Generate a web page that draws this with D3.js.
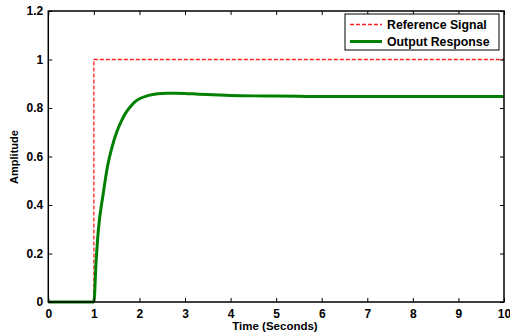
<!DOCTYPE html>
<html><head><meta charset="utf-8">
<script src="https://cdn.jsdelivr.net/npm/d3@7"></script>
<style>body{margin:0;background:#fff}text{font-family:"Liberation Sans",Arial,sans-serif;font-weight:bold}</style>
</head><body><svg id="c" width="510" height="335"></svg>
<script>
const xTicks = [0,1,2,3,4,5,6,7,8,9,10];
const yTicks = [0,0.2,0.4,0.6,0.8,1,1.2];
const refTime = [0, 1, 1, 10];
const refValue = [0, 0, 1, 1];
const outTime = [0, 1, 1.05, 1.1, 1.2, 1.3, 1.4, 1.5, 1.6, 1.7, 1.8, 1.9, 2.0, 2.2, 2.4, 2.6, 2.8, 3.0, 3.3, 3.6, 4.0, 4.5, 5.0, 5.5, 6, 7, 8, 9, 10];
const outValue = [0, 0, 0.17, 0.30, 0.44, 0.56, 0.64, 0.70, 0.745, 0.78, 0.805, 0.825, 0.838, 0.852, 0.859, 0.861, 0.861, 0.860, 0.857, 0.855, 0.852, 0.850, 0.849, 0.848, 0.847, 0.847, 0.847, 0.847, 0.847];
const legendLabels = ["Reference Signal", "Output Response"];

const svg = d3.select("#c");
const L = 48.3, R = 504, T = 11, B = 302;
const x = d3.scaleLinear().domain([0,10]).range([L,R]);
const y = d3.scaleLinear().domain([0,1.2]).range([B,T]);

const line = d3.line().x(d=>x(d[0])).y(d=>y(d[1]));
const ref = refTime.map((t,i)=>[t,refValue[i]]);
const out = outTime.map((t,i)=>[t,outValue[i]]);

svg.append("path").attr("d", line(ref)).attr("fill","none").attr("stroke","#ff2020").attr("stroke-width",1.3).attr("stroke-dasharray","4,2");
svg.append("path").attr("d", line.curve(d3.curveMonotoneX)(out)).attr("fill","none").attr("stroke","#008000").attr("stroke-width",3);

const fmt = d=> d3.format("")(d);
const gB = svg.append("g").attr("transform",`translate(0,${B})`).call(d3.axisBottom(x).tickValues(xTicks).tickSize(-4).tickPadding(7).tickFormat(fmt));
const gT = svg.append("g").attr("transform",`translate(0,${T})`).call(d3.axisTop(x).tickValues(xTicks).tickSize(-4).tickFormat(""));
const gL = svg.append("g").attr("transform",`translate(${L},0)`).call(d3.axisLeft(y).tickValues(yTicks).tickSize(-4).tickPadding(5).tickFormat(fmt));
const gR = svg.append("g").attr("transform",`translate(${R},0)`).call(d3.axisRight(y).tickValues(yTicks).tickSize(-4).tickFormat(""));
[gB,gT,gL,gR].forEach(g=>{
  g.select(".domain").remove();
  g.selectAll(".tick line").attr("stroke","#000").attr("stroke-width",1);
  g.selectAll("text").attr("font-size",12).attr("font-weight","bold").attr("fill","#000").style("font-family","Liberation Sans, Arial, sans-serif");
});
svg.append("rect").attr("x",L).attr("y",T).attr("width",R-L).attr("height",B-T).attr("fill","none").attr("stroke","#000").attr("stroke-width",1.5);

svg.append("text").attr("x",275).attr("y",330).attr("text-anchor","middle").attr("font-size",11.5).text("Time (Seconds)");
svg.append("text").attr("transform",`translate(18,157) rotate(-90)`).attr("text-anchor","middle").attr("font-size",11).text("Amplitude");

const lg = svg.append("g");
lg.append("rect").attr("x",345).attr("y",14).attr("width",154).attr("height",36).attr("fill","#fff").attr("stroke","#000").attr("stroke-width",1);
const rowY = [24.5, 41.5];
lg.append("line").attr("x1",350).attr("x2",382).attr("y1",rowY[0]).attr("y2",rowY[0]).attr("stroke","#ff2020").attr("stroke-width",1.3).attr("stroke-dasharray","4,2");
lg.append("line").attr("x1",350).attr("x2",382).attr("y1",rowY[1]).attr("y2",rowY[1]).attr("stroke","#008000").attr("stroke-width",3);
legendLabels.forEach((s,i)=>{
  lg.append("text").attr("x",387).attr("y",rowY[i]+4.5).attr("font-size",12.3).text(s);
});
</script></body></html>
